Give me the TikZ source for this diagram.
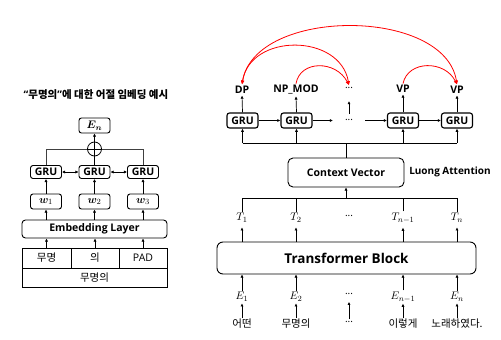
\documentclass[tikz,border=0pt]{standalone}
\usepackage{amsmath}
\usepackage{bm}
\usepackage{fontspec}
\setmainfont{Open Sans}
\newfontfamily\kr{Noto Sans CJK KR}
\usetikzlibrary{arrows.meta}

\newcommand{\midots}{{\fontsize{10}{11}\selectfont ···}}

\begin{document}
\begin{tikzpicture}[x=1pt,y=-1pt,
  box/.style={draw, rounded corners=2.5pt, line width=0.9pt, inner sep=0pt},
  gru/.style={box, minimum width=31pt, minimum height=13pt, font=\bfseries\fontsize{10.5}{11}\selectfont},
  rgru/.style={gru, minimum height=15pt, line width=1.1pt},
  wbox/.style={box, minimum width=31pt, minimum height=15pt, font=\fontsize{11}{12}\selectfont},
  cell/.style={draw, line width=0.6pt, inner sep=0pt, font=\kr\fontsize{10.5}{12}\selectfont},
  lbl/.style={font=\bfseries\fontsize{10.5}{12}\selectfont, inner sep=1.5pt},
  mlbl/.style={font=\fontsize{11}{12}\selectfont, inner sep=1.5pt},
  word/.style={font=\kr\fontsize{10.5}{12}\selectfont, inner sep=1pt},
  arr/.style={-{Latex[length=3.2pt,width=3.2pt]}, line width=0.7pt},
  darr/.style={{Latex[length=3.2pt,width=3.2pt]}-{Latex[length=3.2pt,width=3.2pt]}, line width=0.7pt},
  plain/.style={line width=0.7pt},
  redarc/.style={red, line width=0.8pt, -{Latex[length=4pt,width=3.6pt]}},
  redarc2/.style={red, line width=0.8pt, {Latex[length=4pt,width=3.6pt]}-{Latex[length=4pt,width=3.6pt]}}
]
\useasboundingbox (0,0) rectangle (501,340);

% ---------- word embedding of one eojeol ----------
\node[font=\kr\bfseries\fontsize{10.5}{12}\selectfont] (title) at (96,95)
  {{\normalfont\bfseries “}무명의{\normalfont\bfseries ”}에 대한 어절 임베딩 예시};

\node[box, minimum width=31pt, minimum height=15pt, font=\fontsize{11}{12}\selectfont] (en) at (94.5,125.5) {$\bm{E_n}$};
\node[circle, draw, line width=0.8pt, minimum size=14pt, inner sep=0pt] (sum) at (94.5,149) {};
\draw[plain] (sum.north) -- (sum.south);
\draw[plain] (sum.west) -- (sum.east);
\draw[arr] (sum.north) -- (en.south);

\node[gru] (lg1) at (46,172) {GRU};
\node[gru] (lg2) at (94.5,172) {GRU};
\node[gru] (lg3) at (143,172) {GRU};
\draw[plain, black!75] (lg1.north) |- (sum.west);
\draw[plain, black!75] (lg3.north) |- (sum.east);
\draw[plain] (lg2.north) -- (sum.south);
\draw[darr] (lg1.east) -- (lg2.west);
\draw[darr] (lg2.east) -- (lg3.west);

\node[wbox] (w1) at (46,201.5) {$\bm{w}_1$};
\node[wbox] (w2) at (94.5,201.5) {$\bm{w}_2$};
\node[wbox] (w3) at (143,201.5) {$\bm{w}_3$};
\draw[arr] (w1.north) -- (lg1.south);
\draw[arr] (w2.north) -- (lg2.south);
\draw[arr] (w3.north) -- (lg3.south);

\node[box, minimum width=145pt, minimum height=18pt, rounded corners=3.5pt,
      font=\bfseries\fontsize{10.5}{12}\selectfont] (emb) at (94.5,229) {Embedding Layer};
\draw[arr] (w1.south |- emb.north) -- (w1.south);
\draw[arr] (w2.south |- emb.north) -- (w2.south);
\draw[arr] (w3.south |- emb.north) -- (w3.south);

\node[cell, minimum width=49pt, minimum height=20pt] (c1) at (46.5,258) {무명};
\node[cell, minimum width=48pt, minimum height=20pt] (c2) at (95,258) {의};
\node[cell, minimum width=48pt, minimum height=20pt, font=\fontsize{10.5}{12}\selectfont] (c3) at (143,258) {PAD};
\node[cell, minimum width=145pt, minimum height=19pt] (c4) at (94.5,277.5) {무명의};
\draw[arr] (c1.north) -- (c1.north |- emb.south);
\draw[arr] (c2.north) -- (c2.north |- emb.south);
\draw[arr] (c3.north) -- (c3.north |- emb.south);

% ---------- dependency labelling ----------
\node[lbl] (d1) at (242,90) {DP};
\node[lbl] (d2) at (296,90) {NP\_MOD};
\node[mlbl] (d3) at (349,89) {\midots};
\node[lbl] (d4) at (403,89) {VP};
\node[lbl] (d5) at (457,90) {VP};

\node[rgru] (r1) at (242.5,120.5) {GRU};
\node[rgru] (r2) at (296.5,120.5) {GRU};
\node[mlbl] (r3) at (349,121) {\midots};
\node[rgru] (r4) at (403,120.5) {GRU};
\node[rgru] (r5) at (457,120.5) {GRU};
\coordinate (ha) at (333,120.5);
\coordinate (hb) at (365,120.5);
\coordinate (va) at (349,114);
\coordinate (vb) at (349,101);

\draw[arr] (r1.east) -- (r2.west);
\draw[arr] (r2.east) -- (ha);
\draw[arr] (hb) -- (r4.west);
\draw[arr] (r4.east) -- (r5.west);
\draw[arr] (r1.north) -- (d1.south);
\draw[arr] (r2.north) -- (d2.south);
\draw[arr] (va) -- (vb);
\draw[arr] (r4.north) -- (d4.south);
\draw[arr] (r5.north) -- (d5.south);

\draw[redarc] (d2.north) .. controls (300,60) and (336,60) .. (d3.north);
\draw[redarc2] (d1.north) .. controls (250,33) and (340,33) .. (d3.north);
\draw[redarc2] (d1.north) .. controls (255,7) and (445,7) .. (d5.north);
\draw[redarc] (d4.north) .. controls (408,60) and (445,60) .. (d5.north);

% ---------- attention ----------
\coordinate (tbus) at (346,143);
\coordinate (bbus) at (346,198);
\node[box, minimum width=116pt, minimum height=29pt, rounded corners=5pt,
      font=\bfseries\fontsize{10.5}{12}\selectfont] (cv) at (346,172.5) {Context Vector};
\node[font=\bfseries\fontsize{10}{12}\selectfont] (luong) at (450,172) {Luong Attention};

\draw[plain] (r1.south |- tbus) -- (r5.south |- tbus);
\draw[plain] (cv.north) -- (tbus);
\draw[arr] (r1.south |- tbus) -- (r1.south);
\draw[arr] (r2.south |- tbus) -- (r2.south);
\draw[arr] (r4.south |- tbus) -- (r4.south);
\draw[arr] (r5.south |- tbus) -- (r5.south);

\node[mlbl] (t1) at (242,218) {$T_1$};
\node[mlbl] (t2) at (296,218) {$T_2$};
\node[mlbl] (t3) at (349,217) {\midots};
\node[mlbl] (t4) at (403,218) {$T_{n-1}$};
\node[mlbl] (t5) at (457,218) {$T_n$};
\draw[plain] (t1.north |- bbus) -- (t5.north |- bbus);
\draw[arr] (bbus) -- (cv.south);
\draw[plain] (t1.north) -- (t1.north |- bbus);
\draw[plain] (t2.north) -- (t2.north |- bbus);
\draw[plain] (t4.north) -- (t4.north |- bbus);
\draw[plain] (t5.north) -- (t5.north |- bbus);

% ---------- transformer ----------
\node[box, minimum width=259pt, minimum height=32pt, rounded corners=6pt,
      font=\bfseries\fontsize{13.5}{15}\selectfont] (tb) at (346.5,258) {Transformer Block};
\draw[arr, shorten >=3pt] (t1.south |- tb.north) -- (t1.south);
\draw[arr, shorten >=3pt] (t2.south |- tb.north) -- (t2.south);
\draw[arr, shorten >=3pt] (t4.south |- tb.north) -- (t4.south);
\draw[arr, shorten >=3pt] (t5.south |- tb.north) -- (t5.south);

\node[mlbl] (e1) at (242,297) {$E_1$};
\node[mlbl] (e2) at (296,297) {$E_2$};
\node[mlbl] (e3) at (349,295) {\midots};
\node[mlbl] (e4) at (403,297) {$E_{n-1}$};
\node[mlbl] (e5) at (457,297) {$E_n$};
\draw[arr] (e1.north) -- (e1.north |- tb.south);
\draw[arr] (e2.north) -- (e2.north |- tb.south);
\draw[arr] (e4.north) -- (e4.north |- tb.south);
\draw[arr] (e5.north) -- (e5.north |- tb.south);

\node[word] (x1) at (242,324) {어떤};
\node[word] (x2) at (296,324) {무명의};
\node[mlbl] (x3) at (349,323) {\midots};
\node[word] (x4) at (403,324) {이렇게};
\node[word] (x5) at (457,324) {노래하였다.};
\draw[arr] (x1.north) -- (e1.south);
\draw[arr] (x2.north) -- (e2.south);
\draw[arr, shorten >=3pt] (x3.north) -- (e3.south);
\draw[arr] (x4.north) -- (e4.south);
\draw[arr] (x5.north) -- (e5.south);
\end{tikzpicture}
\end{document}
